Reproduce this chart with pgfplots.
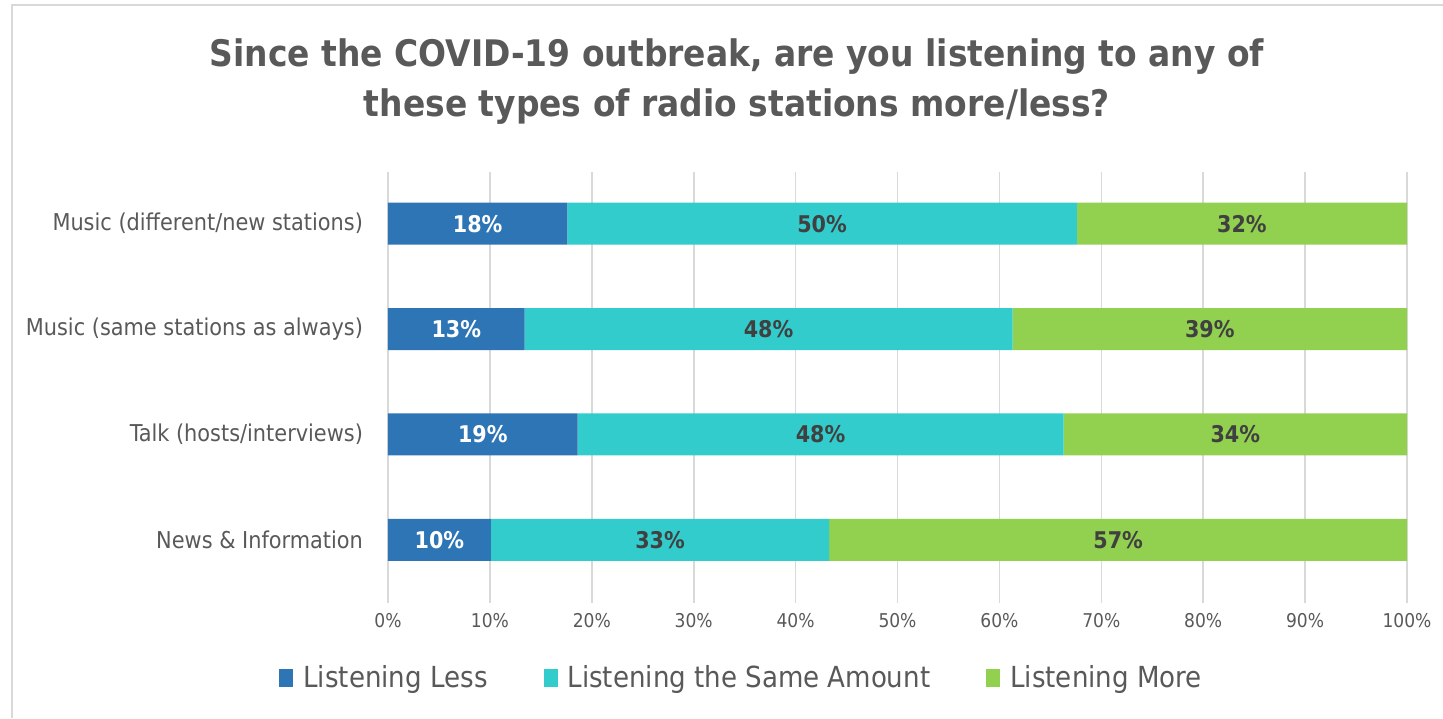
\documentclass[border=0pt]{standalone}
\usepackage{pgfplots}
\usepackage{pgfplotstable}
\pgfplotsset{compat=1.18}
\usepackage{fontspec}
\setmainfont{DejaVu Sans Condensed}
\newfontfamily\cond{DejaVu Sans Condensed}
\definecolor{cLess}{HTML}{2E75B6}
\definecolor{cSame}{HTML}{33CCCC}
\definecolor{cMore}{HTML}{92D050}
\definecolor{txt}{HTML}{595959}
\definecolor{dark}{HTML}{404040}
\definecolor{gridc}{HTML}{D9D9D9}
% y: 0 News, 1 Talk, 2 Music same, 3 Music different
\pgfplotstableread{
y v
0 10.1
1 18.6
2 13.4
3 17.6
}\lesstab
\pgfplotstableread{
y v
0 33.2
1 47.7
2 47.9
3 50.0
}\sametab
\pgfplotstableread{
y v
0 56.7
1 33.7
2 38.7
3 32.4
}\moretab
\begin{document}
\begin{tikzpicture}
\path[use as bounding box] (-194pt,-57.5pt) rectangle (527.5pt,301.5pt);
\draw[gridc, line width=1pt] (-188pt,-57.5pt) -- (-188pt,299pt) -- (527.5pt,299pt);
\begin{axis}[
    at={(0pt,0pt)}, anchor=south west,
    scale only axis,
    width=509.5pt, height=215.5pt,
    xbar stacked,
    bar width=21pt,
    xmin=0, xmax=100,
    ymin=-0.6, ymax=3.49,
    xtick={0,10,...,100},
    xticklabel={\pgfmathprintnumber{\tick}\%},
    ytick={0,1,2,3},
    yticklabels={News \& Information, Talk (hosts/interviews), Music (same stations as always), Music (different/new stations)},
    major tick length=0pt,
    xmajorgrids,
    grid style={gridc, line width=0.8pt},
    axis line style={draw=none},
    tick label style={text=txt},
    xticklabel style={font=\cond\fontsize{9.5}{11}\selectfont, yshift=-1.5pt},
    yticklabel style={font=\cond\fontsize{11.6}{13}\selectfont, xshift=-9pt},
    /pgf/number format/assume math mode=true,
    title={Since the COVID-19 outbreak, are you listening to any of\\these types of radio stations more/less?},
    title style={at={(rel axis cs:0.3425,1)}, anchor=center, yshift=39pt, align=center,
        font=\cond\bfseries\fontsize{18.3}{25}\selectfont, text=txt},
    legend style={at={(0.348,0)}, anchor=center, yshift=-37.5pt, draw=none,
        legend columns=3, font=\cond\fontsize{14.5}{16}\selectfont, text=txt,
        /tikz/every odd column/.append style={column sep=3pt},
        /tikz/every even column/.append style={column sep=26pt}},
    legend image code/.code={\fill[#1] (0pt,-4.5pt) rectangle (7pt,4.5pt);},
    point meta=\thisrow{v},
    nodes near coords={\pgfmathprintnumber[fixed,precision=0]{\pgfplotspointmeta}\%},
    every node near coord/.append style={font=\cond\bfseries\fontsize{11.5}{13}\selectfont,
        anchor=center},
]
\addplot[fill=cLess, draw=none, every node near coord/.append style={text=white}]
    table[x=v, y=y] {\lesstab};
\addplot[fill=cSame, draw=none, every node near coord/.append style={text=dark}]
    table[x=v, y=y] {\sametab};
\addplot[fill=cMore, draw=none, every node near coord/.append style={text=dark}]
    table[x=v, y=y] {\moretab};
\legend{Listening Less, Listening the Same Amount, Listening More}
\end{axis}
\end{tikzpicture}
\end{document}
